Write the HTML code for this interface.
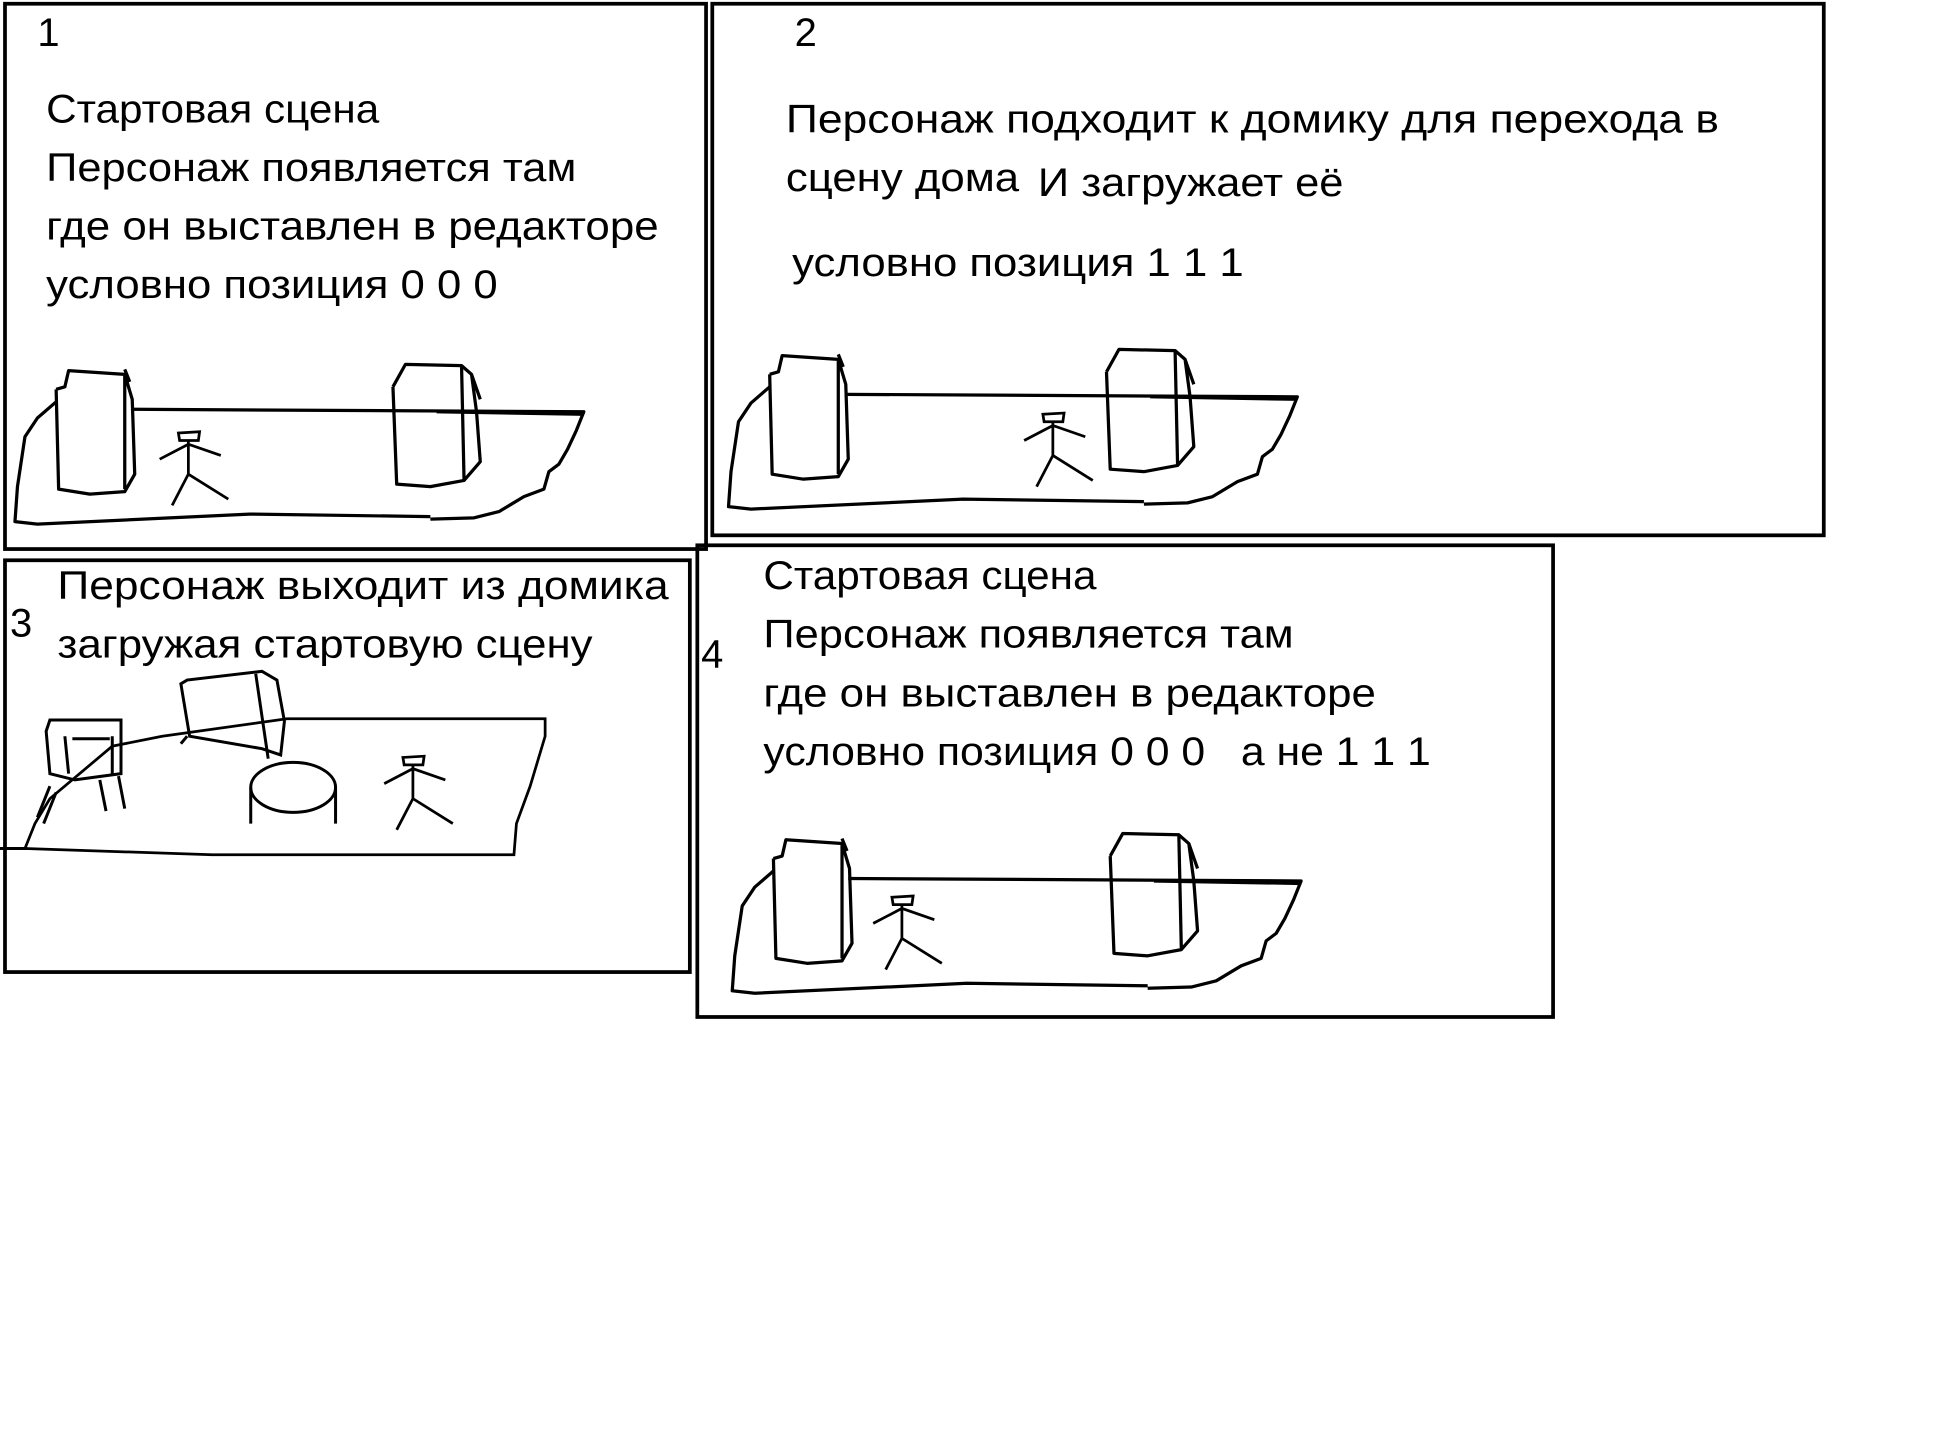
<!DOCTYPE html>
<html><head><meta charset="utf-8"><style>
html,body{margin:0;padding:0;background:#fff;width:1956px;height:1440px;overflow:hidden}
svg{display:block}
text{font-family:"Liberation Sans","Noto Sans CJK SC",sans-serif;font-size:32px;fill:#000}
</style></head><body>
<svg width="1956" height="1440" viewBox="0 0 1568 1154" preserveAspectRatio="none" xmlns="http://www.w3.org/2000/svg">
<defs>
<g id="scene" fill="none" stroke="#000" stroke-width="2.6" stroke-linejoin="round">
  <path d="M105,328 L468,330 L462,345 L455,360 L448,372 L440,378 L436,392 L420,398 L400,410 L380,415 L345,416"/>
  <path d="M345,414 L200,412 L30,420 L12,418 L14,390 L20,350 L30,335 L45,322"/>
  <path d="M45,312 L47,392 L72,396 L100,394 L108,380 L106,320 L100,300 L55,297 L52,310 L45,312 M100,300 L100,392 M100,296 L104,306"/>
  <path d="M315,310 L318,388 L345,390 L372,385 L385,370 L382,330 L378,300 L370,293 L325,292 L315,310 M370,293 L372,385 M378,300 L385,320"/>
  <path d="M350,330 L468,332"/>
</g>
<g id="fig" fill="none" stroke="#000" stroke-width="2.2">
  <path d="M-7,-3 L10,-4 L9,3 L-6,3 Z"/>
  <path d="M1,3 L1,30 M-22,18 L1,6 L27,15 M1,30 L-12,55 M1,30 L33,50"/>
</g>
</defs>
<g fill="none" stroke="#000" stroke-width="3">
<rect x="4" y="3" width="562" height="437"/>
<rect x="571" y="3" width="891" height="426"/>
<rect x="4" y="449" width="549" height="330"/>
<rect x="559" y="437" width="686" height="378"/>
</g>
<use href="#scene"/>
<use href="#fig" x="150" y="350"/>
<use href="#scene" x="572" y="-12"/>
<use href="#fig" x="843" y="335"/>
<use href="#scene" x="575" y="376"/>
<use href="#fig" x="722" y="722"/>
<g fill="none" stroke="#000" stroke-width="2.4">
<path d="M20,680 L170,685 L412,685 L414,660 L425,630 L437,590 L437,576 L230,576 L130,590 L90,598 L40,640 L28,660 Z" stroke-width="2.2"/>
<path d="M0,680 L22,680"/>
<path d="M37,586 L40,620 L60,625 L97,620 L97,577 L40,577 Z M52,590 L55,620 M90,590 L90,620 M58,592 L88,592"/>
<path d="M40,630 L30,655 M80,625 L85,650 M95,622 L100,648 M45,635 L35,660"/>
<path d="M145,548 L152,590 L210,600 L225,605 L228,578 L222,545 L210,538 L150,545 Z M205,540 L215,608 M150,590 L145,596"/>
<ellipse cx="235" cy="631" rx="34" ry="20"/>
<path d="M201,631 L201,660 M269,631 L269,660"/>
</g>
<use href="#fig" x="330" y="610"/>

<text x="30" y="37">1</text>
<text x="37" y="98" textLength="267" lengthAdjust="spacingAndGlyphs">Стартовая сцена</text>
<text x="37" y="145" textLength="425" lengthAdjust="spacingAndGlyphs">Персонаж появляется там</text>
<text x="37" y="192" textLength="491" lengthAdjust="spacingAndGlyphs">где он выставлен в редакторе</text>
<text x="37" y="239" textLength="362" lengthAdjust="spacingAndGlyphs">условно позиция 0 0 0</text>

<text x="637" y="37">2</text>
<text x="630" y="106" textLength="748" lengthAdjust="spacingAndGlyphs">Персонаж подходит к домику для перехода в</text>
<text x="630" y="153" textLength="187" lengthAdjust="spacingAndGlyphs">сцену дома</text>
<text x="832" y="157" textLength="245" lengthAdjust="spacingAndGlyphs">И загружает её</text>
<text x="635" y="221" textLength="362" lengthAdjust="spacingAndGlyphs">условно позиция 1 1 1</text>

<text x="8" y="510">3</text>
<text x="46" y="480" textLength="490" lengthAdjust="spacingAndGlyphs">Персонаж выходит из домика</text>
<text x="46" y="527" textLength="429" lengthAdjust="spacingAndGlyphs">загружая стартовую сцену</text>

<text x="562" y="535">4</text>
<text x="612" y="472" textLength="267" lengthAdjust="spacingAndGlyphs">Стартовая сцена</text>
<text x="612" y="519" textLength="425" lengthAdjust="spacingAndGlyphs">Персонаж появляется там</text>
<text x="612" y="566" textLength="491" lengthAdjust="spacingAndGlyphs">где он выставлен в редакторе</text>
<text x="612" y="613" textLength="535" lengthAdjust="spacingAndGlyphs" xml:space="preserve">условно позиция 0 0 0   а не 1 1 1</text>
</svg>
</body></html>
